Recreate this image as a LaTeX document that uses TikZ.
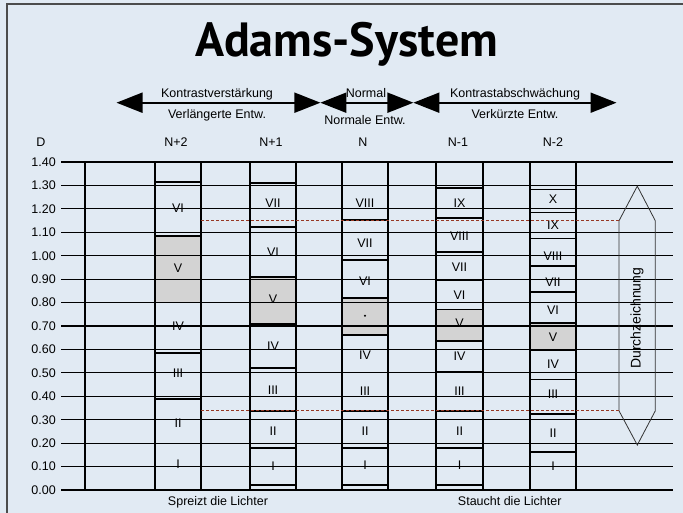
\documentclass[tikz,border=0pt]{standalone}
\usepackage{fontspec}
\setmainfont{Liberation Sans}
\newfontfamily\titlefont{PT Sans}
\usetikzlibrary{arrows.meta}

\definecolor{paper}{RGB}{225,234,243}
\definecolor{zonegray}{RGB}{211,211,211}
\definecolor{limitred}{RGB}{150,55,35}

\begin{document}
\begin{tikzpicture}[
    x=1pt, y=-1pt,
    gridline/.style={line width=1.2pt, black},
    colline/.style={line width=1.4pt, black},
    segline/.style={line width=1.7pt, black},
    zonelabel/.style={font=\fontsize{12.5}{14}\selectfont, inner sep=0pt},
    caption/.style={font=\fontsize{12.5}{15}\selectfont, inner sep=0pt, anchor=base},
    header/.style={font=\fontsize{12.5}{14}\selectfont, inner sep=0pt, anchor=base},
    dlabel/.style={font=\fontsize{12.5}{14}\selectfont, inner sep=0pt, anchor=east},
    dblarrow/.style={line width=2pt, {Triangle[length=26pt,width=20pt]}-{Triangle[length=26pt,width=20pt]}},
    limitline/.style={limitred, line width=1pt, dash pattern=on 3pt off 2pt},
    hexline/.style={line width=0.8pt, black!80},
]
    \clip (0,0) rectangle (683,513);
    \fill[paper] (0,0) rectangle (683,513);
    \draw[line width=1.4pt, black!70] (7,4) rectangle (700,530);

    % Title
    \node[anchor=base] (title) at (346.6,56.7) {\titlefont\bfseries\fontsize{48}{56}\selectfont Adams-System};

    % Development arrows
    \coordinate (a0) at (116.5,102.7);
    \coordinate (a1) at (320.4,102.7);
    \coordinate (a2) at (413.4,102.7);
    \coordinate (a3) at (616.5,102.7);
    \draw[dblarrow] (a0) -- (a1);
    \draw[dblarrow] (a1) -- (a2);
    \draw[dblarrow] (a2) -- (a3);

    \node[caption] (kv) at (217,97.5) {Kontrastverstärkung};
    \node[caption] (kv2) at (217,119) {Verlängerte Entw.};
    \node[caption] (nm) at (366,98) {Normal};
    \node[caption] (nm2) at (365,125) {Normale Entw.};
    \node[caption] (ka) at (515,97.5) {Kontrastabschwächung};
    \node[caption] (ka2) at (515,119) {Verkürzte Entw.};

    % Column headers
    \node[header] (hd) at (41,146.5) {D};
    \node[header] (hnp2) at (176,146.5) {N+2};
    \node[header] (hnp1) at (271,146.5) {N+1};
    \node[header] (hn) at (363,146.5) {N};
    \node[header] (hnm1) at (458,146.5) {N-1};
    \node[header] (hnm2) at (553,146.5) {N-2};

    % Density chart
    \begin{scope}[shift={(0,490)}, y=234.3pt]
        % Zones per column
        \foreach \xl/\xr/\ztop/\zbot/\bnds in {
            155/201/1.085/0.80/{1.316,1.085,0.80,0.585,0.388},
            250/296/0.91/0.708/{1.309,1.122,0.91,0.708,0.522,0.338,0.18,0.021},
            342/388/0.818/0.662/{1.30,1.151,0.982,0.818,0.662,0.502,0.338,0.18,0.021},
            436/483/0.771/0.637/{1.29,1.162,1.017,0.896,0.771,0.637,0.505,0.338,0.18,0.021},
            530/576/0.714/0.595/{1.283,1.184,1.074,0.956,0.846,0.714,0.595,0.472,0.323,0.161}}{
            \fill[zonegray] (\xl,\zbot) rectangle (\xr,\ztop);
            \foreach \b in \bnds
                \draw[segline] (\xl,\b) -- (\xr,\b);
        }

        % Zone labels
        \foreach \l/\d in {VI/1.204, V/0.948, IV/0.70, III/0.50, II/0.287, I/0.111}
            \node[zonelabel] (np2-\l) at (178,\d) {\l};
        \foreach \l/\d in {VII/1.224, VI/1.017, V/0.814, IV/0.612, III/0.427, II/0.252, I/0.10}
            \node[zonelabel] (np1-\l) at (273,\d) {\l};
        \foreach \l/\d in {VIII/1.226, VII/1.053, VI/0.893, IV/0.577, III/0.423, II/0.252, I/0.107}
            \node[zonelabel] (n-\l) at (365,\d) {\l};
        \node[circle, fill=black, inner sep=0pt, minimum size=2.2pt] (n-V) at (365,0.744) {};
        \foreach \l/\d in {IX/1.224, VIII/1.085, VII/0.953, VI/0.832, V/0.711, IV/0.569, III/0.423, II/0.252, I/0.107}
            \node[zonelabel] (nm1-\l) at (459.5,\d) {\l};
        \foreach \l/\d in {X/1.241, IX/1.131, VIII/0.999, VII/0.885, VI/0.768, V/0.652, IV/0.538, III/0.41, II/0.242, I/0.10}
            \node[zonelabel] (nm2-\l) at (553,\d) {\l};

        % Grid and axis
        \foreach \d/\t in {0/0.00, 0.1/0.10, 0.2/0.20, 0.3/0.30, 0.4/0.40, 0.5/0.50, 0.6/0.60, 0.7/0.70,
                           0.8/0.80, 0.9/0.90, 1.0/1.00, 1.1/1.10, 1.2/1.20, 1.3/1.30, 1.4/1.40}{
            \draw[gridline] (61,\d) -- (673,\d);
            \node[dlabel] (d-\t) at (56,\d) {\t};
        }
        \foreach \x in {85,155,201,250,296,342,388,436,483,530,576}
            \draw[colline] (\x,0) -- (\x,1.4);

        % Durchzeichnung range
        \coordinate (hx-top) at (637.3,1.297);
        \coordinate (hx-tr) at (655.3,1.149);
        \coordinate (hx-br) at (655.3,0.338);
        \coordinate (hx-bot) at (637.3,0.192);
        \coordinate (hx-bl) at (619,0.338);
        \coordinate (hx-tl) at (619,1.149);
        \draw[hexline] (hx-top) -- (hx-tr) -- (hx-br) -- (hx-bot) -- (hx-bl) -- (hx-tl) -- cycle;
        \node[rotate=90, font=\fontsize{14}{16}\selectfont] (durch) at (637,0.733) {Durchzeichnung};

        \coordinate (lim-top) at (201,1.149);
        \coordinate (lim-bot) at (201,0.338);
        \draw[limitline] (lim-top) -- (hx-tl);
        \draw[limitline] (lim-bot) -- (hx-bl);
    \end{scope}

    % Bottom captions
    \node[caption] (spreizt) at (218,505.5) {Spreizt die Lichter};
    \node[caption] (staucht) at (509.7,505.5) {Staucht die Lichter};

\end{tikzpicture}
\end{document}
